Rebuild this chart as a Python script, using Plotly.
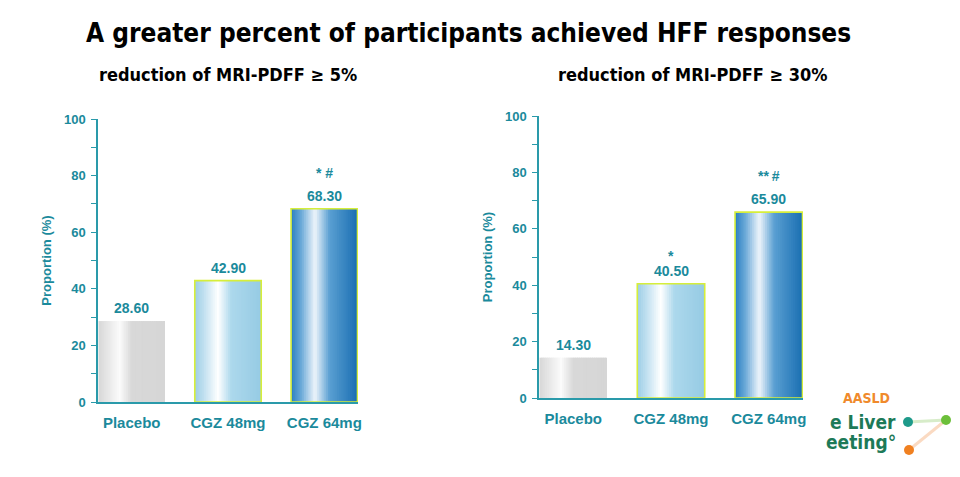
import plotly.graph_objects as go

# ---------------- data ----------------
categories = ["Placebo", "CGZ 48mg", "CGZ 64mg"]
values_5pct = [28.60, 42.90, 68.30]
values_30pct = [14.30, 40.50, 65.90]
sig_5pct = ["", "", "* #"]
sig_30pct = ["", "*", "**\u2009#"]
y_ticks = [0, 20, 40, 60, 80, 100]

title_text = "A greater percent of participants achieved HFF responses"
subtitle_left = "reduction of MRI-PDFF ≥ 5%"
subtitle_right = "reduction of MRI-PDFF ≥ 30%"

# ---------------- styles ----------------
TEAL = "#1b8a9c"
AXIS = "#2a9aaa"
OUTLINE = ["rgba(0,0,0,0)", "#d6ee3a", "#d6ee3a"]
GRADIENTS = [
    [(0.0, "#d8d8d8"), (0.15, "#e8e8e8"), (0.32, "#fbfbfb"), (0.5, "#d8d8d8"), (1.0, "#d6d6d6")],
    [(0.0, "#9ccde6"), (0.15, "#c4e2f1"), (0.35, "#ffffff"), (0.55, "#acd8ec"), (1.0, "#96cbe4")],
    [(0.0, "#2a7fc1"), (0.15, "#6aa9d8"), (0.36, "#eef5fb"), (0.58, "#5a9fd2"), (1.0, "#1a6fb2")],
]
BAR_W = 0.69
N_STRIPS = 36
BODY_FONT = "Liberation Sans, Arial, sans-serif"
NARROW_FONT = "DejaVu Sans Condensed, Liberation Sans Narrow, Arial Narrow, sans-serif"


def hex_to_rgb(h):
    h = h.lstrip("#")
    return tuple(int(h[i:i + 2], 16) for i in (0, 2, 4))


def grad_color(stops, t):
    for (t0, c0), (t1, c1) in zip(stops[:-1], stops[1:]):
        if t0 <= t <= t1:
            f = 0 if t1 == t0 else (t - t0) / (t1 - t0)
            a, b = hex_to_rgb(c0), hex_to_rgb(c1)
            r = [round(a[k] + (b[k] - a[k]) * f) for k in range(3)]
            return "rgb(%d,%d,%d)" % tuple(r)
    return stops[-1][1]


fig = go.Figure()


def add_panel(values, sigs, xa, ya):
    step = BAR_W / N_STRIPS
    for i in range(N_STRIPS):
        t = (i + 0.5) / N_STRIPS
        w = step * (1.6 if i < N_STRIPS - 1 else 1.0)
        fig.add_trace(go.Bar(
            x=categories, y=values, width=w, offset=-BAR_W / 2 + i * step,
            marker=dict(color=[grad_color(g, t) for g in GRADIENTS], line=dict(width=0)),
            xaxis=xa, yaxis=ya, showlegend=False, hoverinfo="skip",
        ))
    # outline
    fig.add_trace(go.Bar(
        x=categories, y=values, width=BAR_W, offset=-BAR_W / 2,
        marker=dict(color="rgba(0,0,0,0)", line=dict(color=OUTLINE, width=1.6)),
        xaxis=xa, yaxis=ya, showlegend=False, hoverinfo="skip",
    ))
    xref = "x" if xa == "x" else "x2"
    yref = "y" if ya == "y" else "y2"
    for c, v, s in zip(categories, values, sigs):
        fig.add_annotation(x=c, y=v, xref=xref, yref=yref, text="<b>%.2f</b>" % v,
                           showarrow=False, yanchor="bottom", yshift=3,
                           font=dict(family=BODY_FONT, size=14, color=TEAL))
        if s:
            fig.add_annotation(x=c, y=v, xref=xref, yref=yref, text="<b>%s</b>" % s,
                               showarrow=False, yanchor="bottom", yshift=18 if len(s) < 3 else 26,
                               font=dict(family=BODY_FONT, size=14, color=TEAL))


add_panel(values_5pct, sig_5pct, "x", "y")
add_panel(values_30pct, sig_30pct, "x2", "y2")

W, H = 960, 477


def xdom(a, b):
    return [a / W, b / W]


def ydom(top, bottom):
    return [1 - bottom / H, 1 - top / H]


yaxis_common = dict(
    range=[0, 100], tickvals=y_ticks, showgrid=False, zeroline=False,
    showline=True, linecolor=AXIS, linewidth=1.5,
    ticks="outside", ticklen=5, tickcolor=AXIS, tickwidth=1,
    minor=dict(dtick=10, ticks="outside", ticklen=5, tickcolor=AXIS, tickwidth=1),
    tickfont=dict(family=BODY_FONT, size=13, color=TEAL, weight="bold"),
    ticklabelstandoff=3,
    title=dict(text="Proportion (%)", font=dict(family=BODY_FONT, size=13, color=TEAL, weight="bold"),
               standoff=9),
    automargin=False,
    fixedrange=True,
)
xaxis_common = dict(
    range=[-0.35, 2.35], showgrid=False, zeroline=False, showline=True,
    linecolor=AXIS, linewidth=1.5, ticks="",
    tickfont=dict(family=BODY_FONT, size=15, color=TEAL, weight="bold"),
    ticklabelstandoff=6, fixedrange=True, automargin=False,
)

fig.update_layout(
    width=W, height=H, margin=dict(l=0, r=0, t=0, b=0, autoexpand=False),
    paper_bgcolor="white", plot_bgcolor="white",
    barmode="overlay",
    xaxis=dict(domain=xdom(98, 358), anchor="y", **xaxis_common),
    yaxis=dict(domain=ydom(119, 402), anchor="x", **yaxis_common),
    xaxis2=dict(domain=xdom(539, 803), anchor="y2", **xaxis_common),
    yaxis2=dict(domain=ydom(116, 398), anchor="x2", **yaxis_common),
)

# titles
fig.add_annotation(x=468 / W, y=1 - 33 / H, xref="paper", yref="paper", text="<b>%s</b>" % title_text,
                   showarrow=False, xanchor="center", yanchor="middle",
                   font=dict(family=NARROW_FONT, size=26, color="black"))
fig.add_annotation(x=97 / W, y=1 - 75 / H, xref="paper", yref="paper", text="<b>%s</b>" % subtitle_left,
                   showarrow=False, xanchor="left", yanchor="middle",
                   font=dict(family=NARROW_FONT, size=18, color="black"))
fig.add_annotation(x=556 / W, y=1 - 75 / H, xref="paper", yref="paper", text="<b>%s</b>" % subtitle_right,
                   showarrow=False, xanchor="left", yanchor="middle",
                   font=dict(family=NARROW_FONT, size=18, color="black"))

# logo (decorative)
fig.add_annotation(x=866 / W, y=1 - 398 / H, xref="paper", yref="paper", text="<b>AASLD</b>",
                   showarrow=False, xanchor="center", yanchor="middle",
                   font=dict(family=NARROW_FONT, size=14, color="#f08a2c"))
fig.add_annotation(x=898 / W, y=1 - 422 / H, xref="paper", yref="paper", text="<b>e Liver</b>",
                   showarrow=False, xanchor="right", yanchor="middle",
                   font=dict(family=NARROW_FONT, size=19, color="#1d7a58"))
fig.add_annotation(x=898 / W, y=1 - 442 / H, xref="paper", yref="paper", text="<b>eeting°</b>",
                   showarrow=False, xanchor="right", yanchor="middle",
                   font=dict(family=NARROW_FONT, size=19, color="#1d7a58"))
fig.add_shape(type="line", xref="paper", yref="paper", x0=908 / W, y0=1 - 422 / H, x1=946 / W, y1=1 - 420 / H,
              line=dict(color="rgba(140,200,100,0.35)", width=3))
fig.add_shape(type="line", xref="paper", yref="paper", x0=946 / W, y0=1 - 420 / H, x1=909 / W, y1=1 - 450 / H,
              line=dict(color="rgba(240,150,80,0.35)", width=3))
for cx, cy, col in [(908, 422, "#1e9a8a"), (946, 420, "#6cbf3a"), (909, 450, "#f08020")]:
    fig.add_shape(type="circle", xref="paper", yref="paper",
                  x0=(cx - 5) / W, x1=(cx + 5) / W, y0=1 - (cy + 5) / H, y1=1 - (cy - 5) / H,
                  fillcolor=col, line=dict(width=0))

fig.write_html("out.html", config={"displayModeBar": False},
               post_script="document.body.style.margin='0';document.body.style.overflow='hidden';")
